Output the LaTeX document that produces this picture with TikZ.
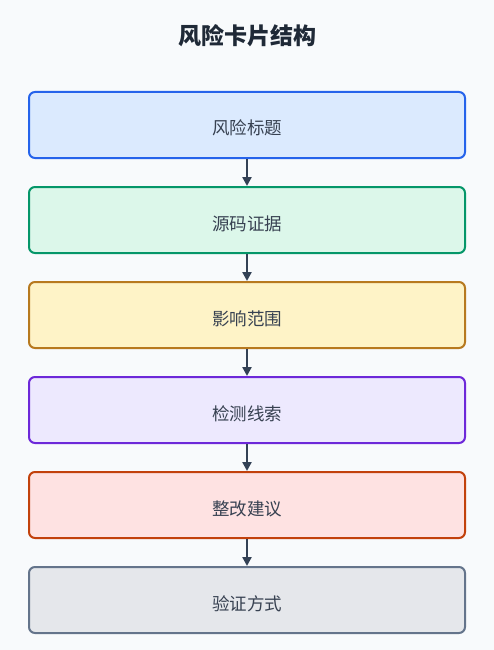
\documentclass[tikz,border=0pt]{standalone}
\usepackage{fontspec}
\setmainfont{Noto Sans CJK SC}
\usepackage{tikz}
\usetikzlibrary{positioning}
\usetikzlibrary{arrows.meta}

\definecolor{pagebg}{HTML}{F8FAFC}
\definecolor{ink}{HTML}{1F2937}
\definecolor{labelink}{HTML}{374151}
\definecolor{arrowink}{HTML}{334155}
\definecolor{blueline}{HTML}{2563EB}
\definecolor{bluefill}{HTML}{DBEAFE}
\definecolor{greenline}{HTML}{059669}
\definecolor{greenfill}{HTML}{DCF7EA}
\definecolor{yellowline}{HTML}{B7791F}
\definecolor{yellowfill}{HTML}{FEF3C7}
\definecolor{purpleline}{HTML}{6D28D9}
\definecolor{purplefill}{HTML}{EDE9FE}
\definecolor{redline}{HTML}{C2410C}
\definecolor{redfill}{HTML}{FEE2E2}
\definecolor{greyline}{HTML}{64748B}
\definecolor{greyfill}{HTML}{E5E7EB}

\begin{document}
\begin{tikzpicture}[
    cardnode/.style={rectangle, rounded corners=6pt, line width=2pt,
        minimum width=436pt, minimum height=66pt,
        text height=20pt, text depth=0pt,
        font=\fontsize{17.5pt}{20pt}\selectfont, text=labelink},
    flowarrow/.style={-{Triangle[length=9pt,width=9pt]}, line width=2.5pt, draw=arrowink},
    align=center,
    node distance=27pt
    ]
    \fill[pagebg] (0,0) rectangle (494pt,-650pt);
    \useasboundingbox (0,0) rectangle (494pt,-650pt);

    %Nodes
    \node[font=\bfseries\fontsize{23pt}{26pt}\selectfont, text=ink] (title) at (247pt,-36pt) {风险卡片结构};

    \node[cardnode, draw=blueline, fill=bluefill] (1A) at (247pt,-125pt) {风险标题};
    \node[cardnode, draw=greenline, fill=greenfill] (1B) [below=of 1A] {源码证据};
    \node[cardnode, draw=yellowline, fill=yellowfill] (1C) [below=of 1B] {影响范围};
    \node[cardnode, draw=purpleline, fill=purplefill] (1D) [below=of 1C] {检测线索};
    \node[cardnode, draw=redline, fill=redfill] (1E) [below=of 1D] {整改建议};
    \node[cardnode, draw=greyline, fill=greyfill] (1F) [below=of 1E] {验证方式};

    %Lines
    \draw[flowarrow] (1A) -- (1B);
    \draw[flowarrow] (1B) -- (1C);
    \draw[flowarrow] (1C) -- (1D);
    \draw[flowarrow] (1D) -- (1E);
    \draw[flowarrow] (1E) -- (1F);

\end{tikzpicture}
\end{document}
